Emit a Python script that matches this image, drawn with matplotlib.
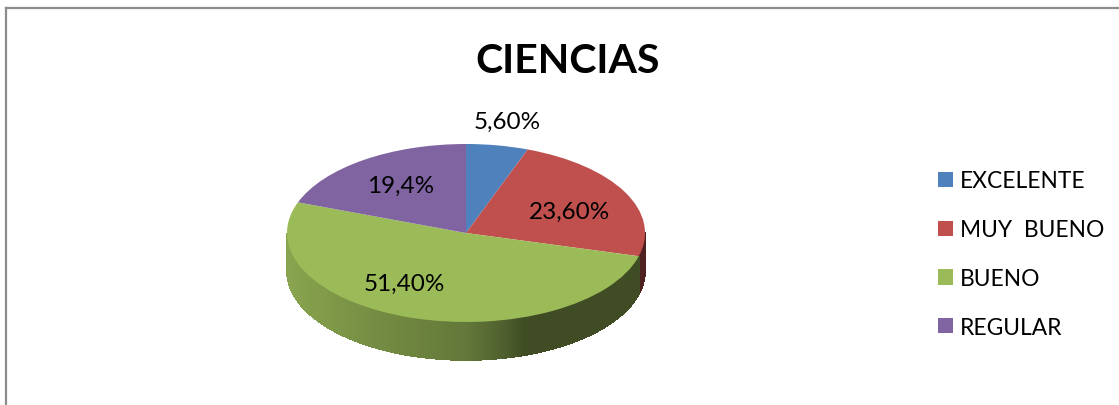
import numpy as np
import matplotlib
matplotlib.use("Agg")
import matplotlib.pyplot as plt
from matplotlib.lines import Line2D
from matplotlib.patches import Polygon

plt.rcParams['font.family'] = ['Lato', 'DejaVu Sans']

categories = ["EXCELENTE", "MUY  BUENO", "BUENO", "REGULAR"]
values = [5.6, 23.6, 51.4, 19.4]
value_labels = ["5,60%", "23,60%", "51,40%", "19,4%"]
colors = ["#4F81BD", "#C0504D", "#9BBB59", "#8064A2"]
title = "CIENCIAS"

W, H = 1119, 406
cx, cy, rx, ry = 466, 234, 179, 89
depth = 38 / ry

fig = plt.figure(figsize=(W / 100, H / 100), dpi=100, facecolor="white")
ax = fig.add_axes([0, 0, 1, 1])

# wall of the pie, thin strips so the shading can run left to right
def shade(x):
    return np.interp(x, [-1, -0.5, 0.0, 0.18, 0.32, 1], [0.88, 0.75, 0.64, 0.53, 0.41, 0.41])

start = 90.0
for val, col in zip(values, colors):
    end = start - val * 3.6
    t = np.arange(start, end - 0.25, -0.25)
    rgb = np.array(matplotlib.colors.to_rgb(col))
    for a, b in zip(t[:-1], t[1:]):
        if np.sin(np.radians(a)) > 0.001 and np.sin(np.radians(b)) > 0.001:
            continue
        ra, rb = np.radians(a), np.radians(b)
        x0, x1 = np.cos(ra), np.cos(rb)
        y0, y1 = np.sin(ra), np.sin(rb)
        c = rgb * shade((x0 + x1) / 2)
        ax.add_patch(Polygon([(x0, y0), (x1, y1), (x1, y1 - depth), (x0, y0 - depth)],
                             closed=True, facecolor=c, edgecolor=c, lw=0.5, antialiased=False))
    start = end

wedges, _ = ax.pie(values, colors=colors, startangle=90, counterclock=False, radius=1)
ax.set_aspect("auto")
ax.set_xlim(-cx / rx, (W - cx) / rx)
ax.set_ylim(-(H - cy) / ry, cy / ry)


def px(x, y):
    return (x - cx) / rx, (cy - y) / ry


label_pos = [(507, 122), (570, 212.5), (404, 284.5), (401, 186.5)]
for lab, (x, y) in zip(value_labels, label_pos):
    ax.text(*px(x, y), lab, fontsize=17.5, color="black", ha="center", va="center")

ax.text(*px(568, 62), title, fontsize=29.5, fontweight="bold", color="black", ha="center", va="center")

fig.legend(wedges, categories, loc="upper left", bbox_to_anchor=(938 / W, 1 - 171.5 / H),
           frameon=False, fontsize=16.4, borderpad=0, borderaxespad=0, labelspacing=1.22,
           handlelength=0.65, handleheight=0.65, handletextpad=0.3)

# chart border, only top and left fall inside the crop
fig.add_artist(Line2D([5.5 / W, 5.5 / W], [0, 1 - 9 / H], color="#8c8c8c", lw=1.6))
fig.add_artist(Line2D([5.5 / W, 1], [1 - 9 / H, 1 - 9 / H], color="#8c8c8c", lw=1.6))

fig.savefig("out.png", dpi=100)
